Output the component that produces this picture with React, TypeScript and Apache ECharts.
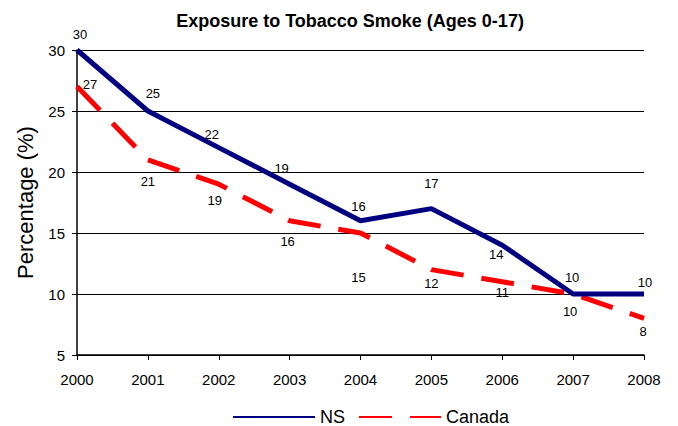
import React, { useEffect, useRef } from "react";
import * as echarts from "echarts";

const years = ["2000", "2001", "2002", "2003", "2004", "2005", "2006", "2007", "2008"];
const nsValues = [30, 25, 22, 19, 16, 17, 14, 10, 10];
const canadaValues = [27, 21, 19, 16, 15, 12, 11, 10, 8];

// label placement per point (style only)
const nsLabelOffsets: [number, number][] = [
  [3, -4], [5, -6], [-7, -2], [-8, -4], [-2, -3], [0, -14], [-6, -2], [-1, -5], [1, 0],
];
const nsLabelPos = ["top", "top", "top", "top", "top", "top", "bottom", "top", "top"];
const canadaLabelOffsets: [number, number][] = [
  [13, 9], [0, 10], [-4, 5], [-2, 9], [-2, 33], [0, 2], [0, -1], [-3, 6], [-1, 2],
];
const canadaLabelPos = ["top", "bottom", "bottom", "bottom", "bottom", "bottom", "bottom", "bottom", "bottom"];

export default function App() {
  const ref = useRef<HTMLDivElement>(null);
  useEffect(() => {
    if (!ref.current) return;
    const chart = echarts.init(ref.current, null, { renderer: "svg" });
    const font = "Liberation Sans, Arial, sans-serif";
    const mkLabel = (pos: string, off: [number, number]) => ({
      show: true,
      position: pos,
      offset: off,
      color: "#000",
      fontSize: 13,
      fontFamily: font,
    });
    chart.setOption({
      animation: false,
      textStyle: { fontFamily: font },
      title: {
        text: "Exposure to Tobacco Smoke (Ages 0-17)",
        left: 345,
        textAlign: "center",
        top: 7,
        textStyle: { fontSize: 18, fontWeight: "bold", color: "#000", fontFamily: font },
      },
      grid: { left: 77, right: 34, top: 50, bottom: 71 },
      legend: {
        top: 408,
        left: 232,
        padding: 0,
        itemWidth: 82,
        itemHeight: 14,
        itemGap: 13,
        textStyle: { fontSize: 18, color: "#000", fontFamily: font },
        itemStyle: { opacity: 0 },
        data: ["NS", "Canada"],
      },
      xAxis: {
        type: "category",
        data: years,
        boundaryGap: false,
        axisLine: { lineStyle: { color: "#000", width: 1.5 } },
        axisTick: { show: true, length: 5, lineStyle: { color: "#000" } },
        axisLabel: { color: "#000", fontSize: 15, margin: 17, fontFamily: font },
        splitLine: { show: false },
      },
      yAxis: {
        type: "value",
        min: 5,
        max: 30,
        interval: 5,
        name: "Percentage (%)",
        nameLocation: "middle",
        nameGap: 41,
        nameTextStyle: { fontSize: 22, color: "#000", fontFamily: font },
        axisLine: { show: true, lineStyle: { color: "#000", width: 1.5 } },
        axisTick: { show: true, length: 5, lineStyle: { color: "#000" } },
        axisLabel: { color: "#000", fontSize: 15, margin: 12, fontFamily: font },
        splitLine: { show: true, lineStyle: { color: "#000", width: 1.2 } },
      },
      series: [
        {
          name: "NS",
          type: "line",
          showSymbol: true,
          symbol: "circle",
          symbolSize: 0.01,
          lineStyle: { color: "#000080", width: 5 },
          itemStyle: { color: "#000080" },
          z: 3,
          data: nsValues.map((v, i) => ({ value: v, label: mkLabel(nsLabelPos[i], nsLabelOffsets[i]) })),
        },
        {
          name: "Canada",
          type: "line",
          showSymbol: true,
          symbol: "circle",
          symbolSize: 0.01,
          lineStyle: { color: "#ff0000", width: 5, type: [33, 18] },
          itemStyle: { color: "#ff0000" },
          z: 2,
          data: canadaValues.map((v, i) => ({ value: v, label: mkLabel(canadaLabelPos[i], canadaLabelOffsets[i]) })),
        },
      ],
    });
    return () => chart.dispose();
  }, []);
  return <div ref={ref} style={{ width: 678, height: 426, position: "absolute", left: 0, top: 0 }} />;
}
